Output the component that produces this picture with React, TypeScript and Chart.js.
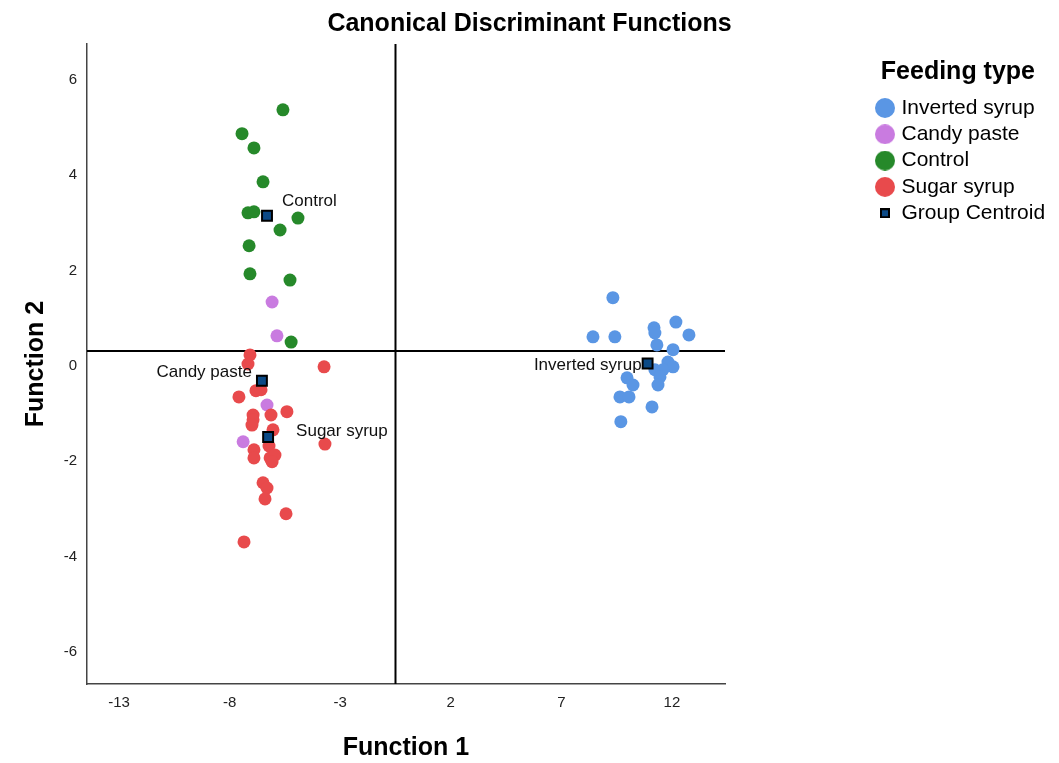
import React, { useEffect, useRef } from "react";
import { Chart, registerables } from "chart.js";

Chart.register(...registerables);

// ---------------- data ----------------
const chartTitle = "Canonical Discriminant Functions";
const xAxisTitle = "Function 1";
const yAxisTitle = "Function 2";
const legendTitle = "Feeding type";
const centroidName = "Group Centroid";

const groupNames = ["Inverted syrup", "Candy paste", "Control", "Sugar syrup"];

const invertedX = [9.33, 8.43, 9.42, 11.19, 11.23, 12.18, 12.77, 11.32, 12.05, 11.82, 12.05, 11.23, 11.59, 11.46, 11.37, 9.97, 10.24, 9.65, 10.06, 11.1, 9.69];
const invertedY = [1.43, 0.61, 0.61, 0.8, 0.69, 0.92, 0.65, 0.44, 0.34, 0.08, -0.02, -0.08, -0.08, -0.23, -0.4, -0.25, -0.4, -0.65, -0.65, -0.86, -1.17];

const candyX = [-6.08, -5.86, -6.31, -7.39];
const candyY = [1.34, 0.63, -0.82, -1.59];

const controlX = [-5.59, -7.44, -6.9, -6.49, -7.17, -6.9, -4.91, -5.72, -7.12, -7.08, -5.27, -5.22];
const controlY = [5.37, 4.87, 4.57, 3.86, 3.21, 3.23, 3.1, 2.85, 2.52, 1.93, 1.8, 0.5];

const sugarX = [-7.08, -7.17, -3.73, -6.81, -6.58, -7.58, -5.41, -6.13, -6.94, -6.94, -6.99, -6.04, -3.69, -6.22, -6.9, -6.9, -6.17, -5.95, -6.08, -6.49, -6.31, -6.4, -5.45, -7.35];
const sugarY = [0.23, 0.04, -0.02, -0.52, -0.5, -0.65, -0.96, -1.03, -1.03, -1.13, -1.24, -1.34, -1.64, -1.68, -1.76, -1.93, -1.93, -1.87, -2.01, -2.45, -2.56, -2.79, -3.1, -3.69];

// centroids in order: Inverted syrup, Candy paste, Control, Sugar syrup
const centroidX = [10.9, -6.54, -6.31, -6.26];
const centroidY = [0.05, -0.31, 3.15, -1.49];

const xTicks = [-13, -8, -3, 2, 7, 12];
const yTicks = [-6, -4, -2, 0, 2, 4, 6];
const xRange = [-14.45, 14.4];
const yRange = [-6.67, 6.75];
const refLineX = -0.5;
const refLineY = 0.31;

// ---------------- styles ----------------
const groupColors = ["#5a96e4", "#c97be0", "#26892a", "#e84a4c"];
const centroidFill = "#0c4a86";
const FONT = "'Liberation Sans', Arial, Helvetica, sans-serif";
const labelPlacement = [
  { dx: -6, dy: 2, align: "right" as CanvasTextAlign },
  { dx: -10, dy: -8, align: "right" as CanvasTextAlign },
  { dx: 15, dy: -14, align: "left" as CanvasTextAlign },
  { dx: 28, dy: -6, align: "left" as CanvasTextAlign },
];

const zip = (xs: number[], ys: number[]) => xs.map((x, i) => ({ x, y: ys[i] }));

function circleMarker(color: string, d: number) {
  const c = document.createElement("canvas");
  c.width = d;
  c.height = d;
  const g = c.getContext("2d")!;
  g.fillStyle = color;
  g.beginPath();
  g.arc(d / 2, d / 2, d / 2, 0, Math.PI * 2);
  g.fill();
  return c;
}

function squareMarker(fill: string, stroke: string, s: number, bw: number) {
  const c = document.createElement("canvas");
  c.width = s;
  c.height = s;
  const g = c.getContext("2d")!;
  g.fillStyle = stroke;
  g.fillRect(0, 0, s, s);
  g.fillStyle = fill;
  g.fillRect(bw, bw, s - 2 * bw, s - 2 * bw);
  return c;
}

export default function App() {
  const ref = useRef<HTMLCanvasElement | null>(null);

  useEffect(() => {
    if (!ref.current) return;
    const W = 1059;
    const chartRight = 725;
    const legendBoxWidth = W - chartRight;
    const legendLeft = 873.7;
    const legendTitleRight = 1035;

    const markers = [
      ...groupColors.map((c) => circleMarker(c, 20)),
      squareMarker(centroidFill, "#000", 10, 2),
    ];
    const legendNames = [...groupNames, centroidName];

    const helperPlugin = {
      id: "helperPlugin",
      beforeLayout(chart: any) {
        const lg = chart.legend;
        if (lg && !lg.__patched) {
          const orig = lg.fit;
          lg.fit = function () {
            orig.call(this);
            this.width = legendBoxWidth;
          };
          lg.__patched = true;
        }
      },
      afterLayout(chart: any) {
        const lg = chart.legend;
        if (!lg) return;
        lg.left = legendLeft;
        lg.right = W;
        lg.width = legendTitleRight - legendLeft;
        lg.top = chart.chartArea.top;
        lg.bottom = chart.chartArea.bottom;
        lg.height = lg.bottom - lg.top;
      },
      afterDatasetsDraw(chart: any) {
        const meta = chart.getDatasetMeta(4);
        const ctx = chart.ctx;
        ctx.save();
        ctx.font = `17px ${FONT}`;
        ctx.fillStyle = "#111";
        ctx.textBaseline = "middle";
        meta.data.forEach((el: any, i: number) => {
          const p = labelPlacement[i];
          ctx.textAlign = p.align;
          ctx.fillText(groupNames[i], el.x + p.dx, el.y + p.dy);
        });
        ctx.restore();
      },
    };

    const chart = new Chart(ref.current, {
      type: "scatter",
      data: {
        datasets: [
          { label: groupNames[0], data: zip(invertedX, invertedY), backgroundColor: groupColors[0], pointRadius: 6.5, borderWidth: 0, order: 4 },
          { label: groupNames[1], data: zip(candyX, candyY), backgroundColor: groupColors[1], pointRadius: 6.5, borderWidth: 0, order: 3 },
          { label: groupNames[2], data: zip(controlX, controlY), backgroundColor: groupColors[2], pointRadius: 6.5, borderWidth: 0, order: 2 },
          { label: groupNames[3], data: zip(sugarX, sugarY), backgroundColor: groupColors[3], pointRadius: 6.5, borderWidth: 0, order: 1 },
          { label: centroidName, data: zip(centroidX, centroidY), pointStyle: "rect", pointRadius: 7, backgroundColor: centroidFill, borderColor: "#000", borderWidth: 2, order: 0 },
          { label: "refH", data: [{ x: xRange[0], y: refLineY }, { x: xRange[1], y: refLineY }], showLine: true, pointRadius: 0, borderColor: "#000", borderWidth: 2, order: 10 },
          { label: "refV", data: [{ x: refLineX, y: yRange[0] }, { x: refLineX, y: yRange[1] }], showLine: true, pointRadius: 0, borderColor: "#000", borderWidth: 2, order: 10 },
        ] as any,
      },
      options: {
        animation: false,
        responsive: false,
        layout: { padding: 0 },
        plugins: {
          tooltip: { enabled: false },
          title: {
            display: true,
            text: chartTitle,
            color: "#000",
            font: { family: FONT, size: 25, weight: "bold" },
            padding: { top: 9, bottom: 5 },
          },
          legend: {
            display: true,
            position: "right",
            align: "start",
            title: {
              display: true,
              text: legendTitle,
              color: "#000",
              position: "end",
              font: { family: FONT, size: 25, weight: "bold" },
              padding: { top: 15.5, bottom: 2.7 },
            },
            labels: {
              color: "#000",
              font: { family: FONT, size: 21 },
              usePointStyle: true,
              boxWidth: 12,
              boxHeight: 12,
              padding: 5.3,
              generateLabels: () =>
                legendNames.map((t, i) => ({
                  text: t,
                  fillStyle: i < 4 ? groupColors[i] : centroidFill,
                  strokeStyle: "#000",
                  lineWidth: 0,
                  pointStyle: markers[i] as any,
                  hidden: false,
                  datasetIndex: i,
                  fontColor: "#000",
                })),
            },
          } as any,
        },
        scales: {
          x: {
            type: "linear",
            min: xRange[0],
            max: xRange[1],
            afterBuildTicks: (s: any) => {
              s.ticks = xTicks.map((v) => ({ value: v }));
            },
            afterFit: (s: any) => {
              s.height = 79;
            },
            grid: { display: false, drawTicks: false },
            border: { display: true, color: "#444", width: 1.5 },
            ticks: { autoSkip: false, padding: 10, color: "#222", font: { family: FONT, size: 15 }, callback: (v: any) => String(v) },
            title: { display: true, text: xAxisTitle, color: "#000", font: { family: FONT, size: 25, weight: "bold" }, padding: { top: 0, bottom: 0 } },
          },
          y: {
            type: "linear",
            min: yRange[0],
            max: yRange[1],
            afterBuildTicks: (s: any) => {
              s.ticks = yTicks.map((v) => ({ value: v }));
            },
            afterFit: (s: any) => {
              s.width = 87;
            },
            grid: { display: false, drawTicks: false },
            border: { display: true, color: "#444", width: 1.5 },
            ticks: { autoSkip: false, padding: 10, color: "#222", font: { family: FONT, size: 15 }, callback: (v: any) => String(v) },
            title: { display: true, text: yAxisTitle, color: "#000", font: { family: FONT, size: 25, weight: "bold" }, padding: { top: 21, bottom: 0 } },
          },
        },
      } as any,
      plugins: [helperPlugin as any],
    });
    return () => chart.destroy();
  }, []);

  return (
    <div style={{ position: "fixed", left: 0, top: 0, width: 1059, height: 763, background: "#fff" }}>
      <canvas ref={ref} width={1059} height={763} style={{ width: 1059, height: 763, display: "block" }} />
    </div>
  );
}
